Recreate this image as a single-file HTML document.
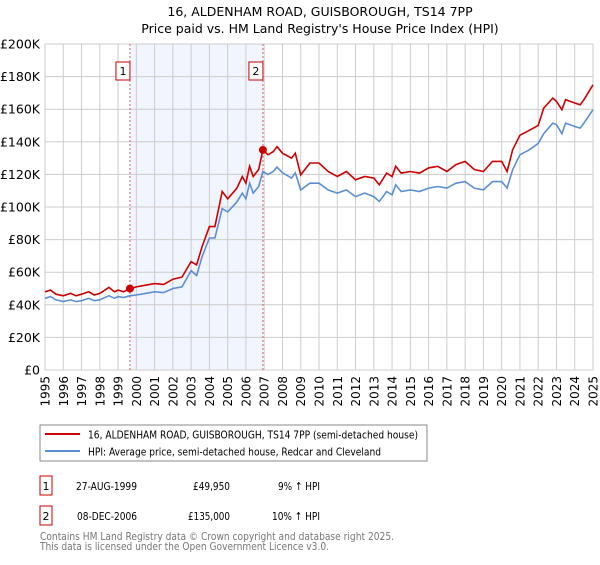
<!DOCTYPE html>
<html><head><meta charset="utf-8"><style>
body{margin:0;background:#fff;font-family:"Liberation Sans","DejaVu Sans",sans-serif;}
svg text{font-family:"DejaVu Sans","Liberation Sans",sans-serif;}
</style></head><body>
<svg id="chart" width="600" height="560" xmlns="http://www.w3.org/2000/svg">
<text x="320" y="16" text-anchor="middle" font-size="12.5">16, ALDENHAM ROAD, GUISBOROUGH, TS14 7PP</text>
<text x="320" y="33" text-anchor="middle" font-size="12.5">Price paid vs. HM Land Registry's House Price Index (HPI)</text>
<g id="grid"></g><g id="series"></g>
<rect x="40" y="425" width="387" height="36" fill="#fff" stroke="#888"/>
<line x1="45" y1="434" x2="80" y2="434" stroke="#cc0000" stroke-width="2"/>
<text x="88" y="438.5" font-size="11" textLength="330" lengthAdjust="spacingAndGlyphs">16, ALDENHAM ROAD, GUISBOROUGH, TS14 7PP (semi-detached house)</text>
<line x1="45" y1="451" x2="80" y2="451" stroke="#5b8fd4" stroke-width="2"/>
<text x="88" y="455.5" font-size="11" textLength="293" lengthAdjust="spacingAndGlyphs">HPI: Average price, semi-detached house, Redcar and Cleveland</text>
<rect x="40" y="476" width="12" height="19" fill="#fff" stroke="#cc0000"/>
<text x="46" y="490" font-size="11" text-anchor="middle">1</text>
<text x="76" y="490" font-size="11" textLength="61" lengthAdjust="spacingAndGlyphs">27-AUG-1999</text>
<text x="193" y="490" font-size="11" textLength="37" lengthAdjust="spacingAndGlyphs">£49,950</text>
<text x="278" y="490" font-size="11" textLength="42" lengthAdjust="spacingAndGlyphs">9% ↑ HPI</text>
<rect x="40" y="506" width="12" height="19" fill="#fff" stroke="#cc0000"/>
<text x="46" y="520" font-size="11" text-anchor="middle">2</text>
<text x="77" y="520" font-size="11" textLength="60" lengthAdjust="spacingAndGlyphs">08-DEC-2006</text>
<text x="188" y="520" font-size="11" textLength="42" lengthAdjust="spacingAndGlyphs">£135,000</text>
<text x="272" y="520" font-size="11" textLength="48" lengthAdjust="spacingAndGlyphs">10% ↑ HPI</text>
<text x="40" y="540" font-size="11" fill="#777" textLength="354" lengthAdjust="spacingAndGlyphs">Contains HM Land Registry data © Crown copyright and database right 2025.</text>
<text x="40" y="550" font-size="11" fill="#777" textLength="289" lengthAdjust="spacingAndGlyphs">This data is licensed under the Open Government Licence v3.0.</text>
</svg>
<script>
const yearTicks=[1995,1996,1997,1998,1999,2000,2001,2002,2003,2004,2005,2006,2007,2008,2009,2010,2011,2012,2013,2014,2015,2016,2017,2018,2019,2020,2021,2022,2023,2024,2025];
const valueTicks=[0,20,40,60,80,100,120,140,160,180,200];
const valueLabels=["£0","£20K","£40K","£60K","£80K","£100K","£120K","£140K","£160K","£180K","£200K"];
const times=[1995,1995.3,1995.6,1996,1996.4,1996.7,1997,1997.4,1997.7,1998,1998.5,1998.8,1999,1999.3,1999.65,2000,2000.5,2001,2001.5,2002,2002.5,2003,2003.3,2003.6,2004,2004.3,2004.7,2005,2005.5,2005.8,2006,2006.2,2006.4,2006.7,2006.93,2007.2,2007.5,2007.7,2008,2008.5,2008.7,2009,2009.5,2010,2010.5,2011,2011.5,2012,2012.5,2013,2013.3,2013.7,2014,2014.2,2014.5,2015,2015.5,2016,2016.5,2017,2017.5,2018,2018.5,2019,2019.5,2020,2020.3,2020.6,2021,2021.5,2022,2022.3,2022.8,2023,2023.3,2023.5,2024,2024.3,2024.5,2025];
const hpiValues=[44,45,43,42,43,42,42.5,44,42.5,43,45.6,44,45,44.5,45.6,46,47,48,47.5,50,51,61,58,69.6,81,81,99,97,103,108.5,105,114.6,108.5,112.6,121.8,120,121.8,124.5,121,117.7,121,110.5,114.6,114.6,110.5,108.5,110.5,106.4,108.5,106.4,103.4,109.5,107.5,113.6,109.5,110.5,109.5,111.6,112.6,111.6,114.6,115.6,111.6,110.5,115.6,115.6,111.6,122.8,132,135,139,145,151.5,150.5,145,151.5,149.4,148.4,151.5,159.7];
const propertyValues=[48,49,46.5,45.5,47,45.5,46.5,48,46,47,50.7,48,49,48,49.95,51,52,53,52.5,55.7,57,66.5,64.5,75.7,88,88,109.5,105,111.5,118.7,114.6,125,118.7,123,135,132,134,137,133,130,133,119.7,127,127,121.8,118.7,121.8,116.7,118.7,117.7,113.6,120.8,118.7,125,120.8,121.8,120.8,124,125,121.8,126,128,123,121.8,128,128,121.8,135,144,147,150,160.7,166.8,164.8,159.7,165.8,163.8,162.7,165.8,175];
const saleYears=[1999.65,2006.93];
const salePrices=[49.95,135];
const saleLabels=["1","2"];
const NS="http://www.w3.org/2000/svg";
const X0=45,X1=593,Y0=370,Y1=44;
const xs=t=>X0+(t-1995)/30*(X1-X0);
const ys=v=>Y0-v/200*(Y0-Y1);
function mk(tag,attrs,parent){const e=document.createElementNS(NS,tag);for(const k in attrs)e.setAttribute(k,attrs[k]);parent.appendChild(e);return e;}
const g=document.getElementById('grid'),s=document.getElementById('series');
const shade=mk('rect',{x:xs(saleYears[0]),y:Y1,width:xs(saleYears[1])-xs(saleYears[0]),height:Y0-Y1,fill:'#eef3fc',opacity:0.8},g);


yearTicks.forEach(y=>{
 const l=mk('line',{x1:xs(y),x2:xs(y),y1:Y1,y2:Y0,stroke:'#cccccc','stroke-width':1},g);
 
 
 const t=mk('text',{x:0,y:0,'font-size':12,'text-anchor':'end',transform:`translate(${xs(y)+4.5},376) rotate(-90)`},g);
 t.textContent=y;
 
 
});
valueTicks.forEach((v,i)=>{
 const l=mk('line',{x1:X0,x2:X1,y1:ys(v),y2:ys(v),stroke:'#cccccc','stroke-width':1},g);
 
 
 const t=mk('text',{x:40,y:ys(v)+4.5,'font-size':12.5,'text-anchor':'end'},g);
 t.textContent=valueLabels[i];
 
 
});
saleYears.forEach((y,i)=>{
 const l=mk('line',{x1:xs(y),x2:xs(y),y1:Y1,y2:Y0,stroke:'#e06060','stroke-width':1,'stroke-dasharray':'2,2'},g);
 
 
 const r=mk('rect',{x:xs(y)-14,y:62,width:14,height:18,fill:'#fff',stroke:'#cc0000'},g);
 
 
 const t=mk('text',{x:xs(y)-7,y:75,'font-size':11,'text-anchor':'middle'},g);
 t.textContent=saleLabels[i];
 
 
});
const pts=a=>a.map((v,i)=>xs(times[i]).toFixed(1)+','+ys(v).toFixed(1)).join(' ');
const hl=mk('polyline',{points:pts(hpiValues),fill:'none',stroke:'#5b8fd4','stroke-width':1.6},s);


const pl=mk('polyline',{points:pts(propertyValues),fill:'none',stroke:'#cc0000','stroke-width':1.6},s);


saleYears.forEach((y,i)=>{
 const c=mk('circle',{cx:xs(y),cy:ys(salePrices[i]),r:4,fill:'#cc0000'},s);
 
 
});
</script>
</body></html>
